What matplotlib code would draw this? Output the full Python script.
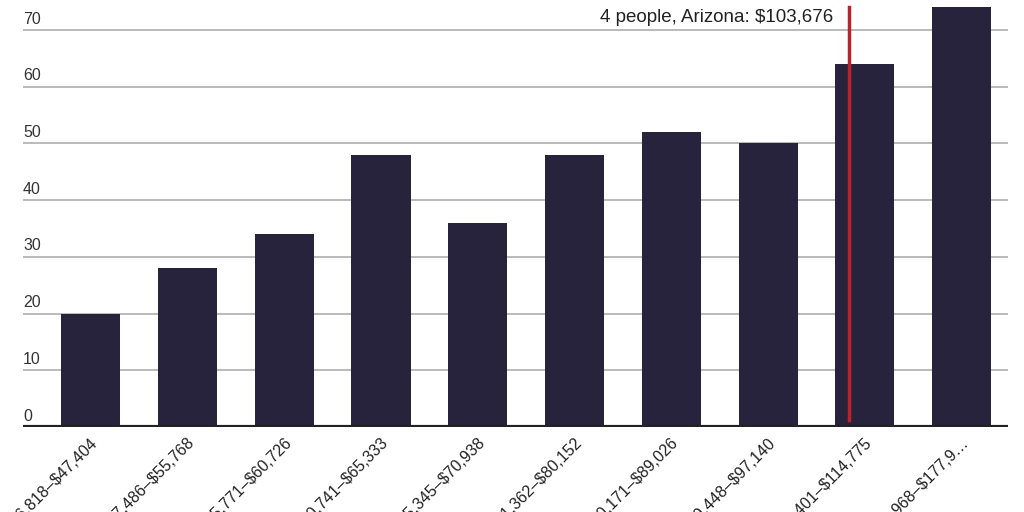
import numpy as np
import matplotlib.pyplot as plt
from matplotlib.transforms import blended_transform_factory

# income brackets (x), share values (y)
brackets = ['$36,818–$47,404', '$47,486–$55,768', '$55,771–$60,726',
            '$60,741–$65,333', '$65,345–$70,938', '$71,362–$80,152',
            '$80,171–$89,026', '$89,448–$97,140', '$97,401–$114,775',
            '$114,968–$177,9…']
values = [20, 28, 34, 48, 36, 48, 52, 50, 64, 74]
yticks = [0, 10, 20, 30, 40, 50, 60, 70]

marker_pos = 7.84
marker_label = '4 people, Arizona: $103,676'

plt.rcParams['font.family'] = ['Liberation Sans', 'DejaVu Sans']
plt.rcParams['text.parse_math'] = False

fig = plt.figure(figsize=(10.24, 5.12), dpi=100)
ax = fig.add_axes([23 / 1024, 1 - 427 / 512, 985 / 1024, 427 / 512])

x = np.arange(len(values))
ax.bar(x, values, width=0.61, color='#28233d', zorder=2)

ax.set_xlim(-0.70, 9.48)
ax.set_ylim(0, 75.3)

# gridlines + in-plot y labels
tr = blended_transform_factory(ax.transAxes, ax.transData)
for t in yticks:
    if t > 0:
        ax.axhline(t, color='#b4b4b4', lw=1.3, zorder=1)
    ax.text(0.0, t + 0.6, str(t), transform=tr, ha='left', va='bottom',
            fontsize=11.5, color='#333333')
ax.axhline(0, color='#222222', lw=3, zorder=3)

# marker line for Arizona
ax.plot([marker_pos, marker_pos], [1.2, 74], color='#b5262c', lw=2.5, zorder=4)
ax.text(marker_pos - 0.17, 72.3, marker_label, ha='right', va='center',
        fontsize=13.5, color='#222222')

ax.set_yticks([])
ax.set_xticks(x)
ax.set_xticklabels(brackets, rotation=45, ha='right', va='top',
                   rotation_mode='anchor', fontsize=11.5, color='#222222')
ax.tick_params(axis='x', length=0, pad=6)
for s in ax.spines.values():
    s.set_visible(False)

fig.savefig('out.png', dpi=100)
